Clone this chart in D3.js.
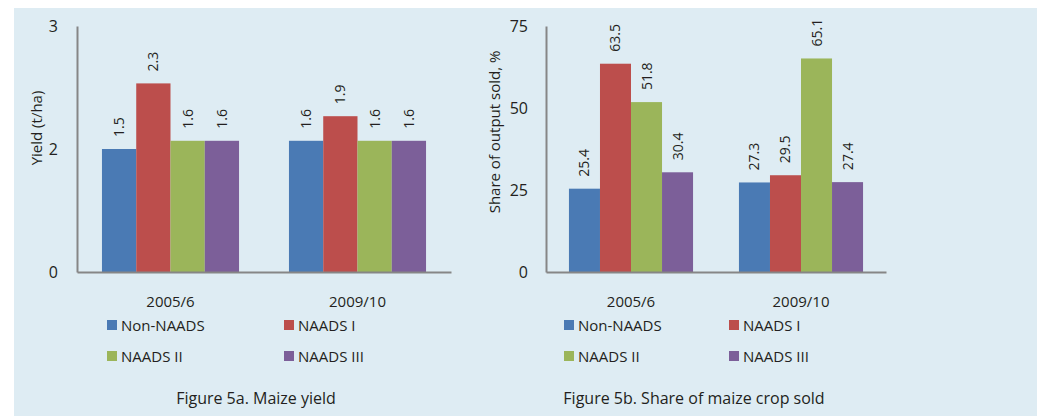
<html>
<head>
<title>Maize yield and share sold</title>
<script src="https://d3js.org/d3.v7.min.js"></script>
<style>
  body { margin: 0; background: #fff; }
  text { font-family: "Open Sans", sans-serif; fill: #231f20; }
</style>
</head>
<body>
<div id="chart"></div>
<script>
var width = 1037, height = 416;

var categories = ["2005/6", "2009/10"];
var seriesNames = ["Non-NAADS", "NAADS I", "NAADS II", "NAADS III"];
var colors = ["#4a7ab4", "#bc4e4c", "#9bb55a", "#7c5f99"];

// Figure 5a, yield t/ha, one row per category
var yieldValues = [[1.5, 2.3, 1.6, 1.6], [1.6, 1.9, 1.6, 1.6]];
var yieldTicks = [0, 1.5, 3];

// Figure 5b, share of output sold, %
var soldValues = [[25.4, 63.5, 51.8, 30.4], [27.3, 29.5, 65.1, 27.4]];
var soldTicks = [0, 25, 50, 75];

var svg = d3.select('#chart').append('svg')
    .attr('width', width)
    .attr('height', height);

svg.append('rect')
    .attr('x', 14).attr('y', 8)
    .attr('width', width - 14).attr('height', height - 8)
    .attr('fill', '#deecf3');

var color = d3.scaleOrdinal().domain(seriesNames).range(colors);

function drawChart(opt) {
    var x0 = d3.scaleBand()
        .domain(categories)
        .range([opt.left, opt.right])
        .paddingInner(opt.pad)
        .paddingOuter(opt.pad / 2);

    var x1 = d3.scaleBand()
        .domain(seriesNames)
        .range([0, x0.bandwidth()]);

    var y = d3.scaleLinear()
        .domain([0, opt.max])
        .range([272, 26]);

    var g = svg.append('g');

    // bars
    var groups = g.selectAll('.grp')
        .data(opt.values)
        .enter().append('g')
        .attr('transform', (d, i) => `translate(${x0(categories[i])},0)`);

    groups.selectAll('rect')
        .data(d => d.map((v, j) => ({key: seriesNames[j], value: v})))
        .enter().append('rect')
        .attr('x', d => x1(d.key))
        .attr('y', d => y(d.value))
        .attr('width', x1.bandwidth())
        .attr('height', d => y(0) - y(d.value))
        .attr('fill', d => color(d.key));

    // value labels, rotated
    groups.selectAll('text')
        .data(d => d.map((v, j) => ({key: seriesNames[j], value: v})))
        .enter().append('text')
        .attr('transform', d => `translate(${x1(d.key) + x1.bandwidth() / 2 + 5},${y(d.value) - 12}) rotate(-90)`)
        .attr('font-size', 14)
        .text(d => d.value.toFixed(1));

    // axes
    var yAxis = g.append('g')
        .attr('transform', `translate(${opt.left},0)`)
        .call(d3.axisLeft(y).tickValues(opt.ticks).tickSize(0).tickPadding(opt.tickPad).tickFormat(d3.format('.0f')));
    yAxis.select('.domain').attr('stroke', '#868686').attr('stroke-width', 2);
    yAxis.selectAll('.tick text')
        .attr('font-size', 16)
        .attr('font-family', '"Open Sans", sans-serif')
        .attr('fill', '#231f20');

    var xAxis = g.append('g')
        .attr('transform', `translate(0,${y(0)})`)
        .call(d3.axisBottom(x0).tickSize(0).tickPadding(24));
    xAxis.select('.domain').attr('stroke', '#868686').attr('stroke-width', 2);
    xAxis.selectAll('.tick text')
        .attr('font-size', 15)
        .attr('font-family', '"Open Sans", sans-serif')
        .attr('fill', '#231f20');

    // y title
    g.append('text')
        .attr('transform', `translate(${opt.titleX},${opt.titleY}) rotate(-90)`)
        .attr('text-anchor', 'middle')
        .attr('font-size', 15)
        .text(opt.yTitle);

    // legend, two columns
    var leg = g.selectAll('.legend')
        .data(seriesNames)
        .enter().append('g')
        .attr('transform', (d, i) => `translate(${opt.legX[i % 2]},${i < 2 ? 320 : 351})`);
    leg.append('rect')
        .attr('width', 10).attr('height', 10)
        .attr('fill', d => color(d));
    leg.append('text')
        .attr('x', 14).attr('y', 11)
        .attr('font-size', 15)
        .text(d => d);

    // caption
    g.append('text')
        .attr('x', opt.capX).attr('y', 404)
        .attr('text-anchor', 'middle')
        .attr('font-size', 16)
        .text(opt.caption);
}

drawChart({
    values: yieldValues, max: 3, ticks: yieldTicks,
    left: 77, right: 451, pad: 0.267, tickPad: 19,
    yTitle: 'Yield (t/ha)', titleX: 42, titleY: 128,
    legX: [107, 284], capX: 256,
    caption: 'Figure 5a. Maize yield'
});

drawChart({
    values: soldValues, max: 75, ticks: soldTicks,
    left: 546, right: 886, pad: 0.27, tickPad: 18,
    yTitle: 'Share of output sold, %', titleX: 500, titleY: 132,
    legX: [564, 729], capX: 694,
    caption: 'Figure 5b. Share of maize crop sold'
});
</script>
</body>
</html>
